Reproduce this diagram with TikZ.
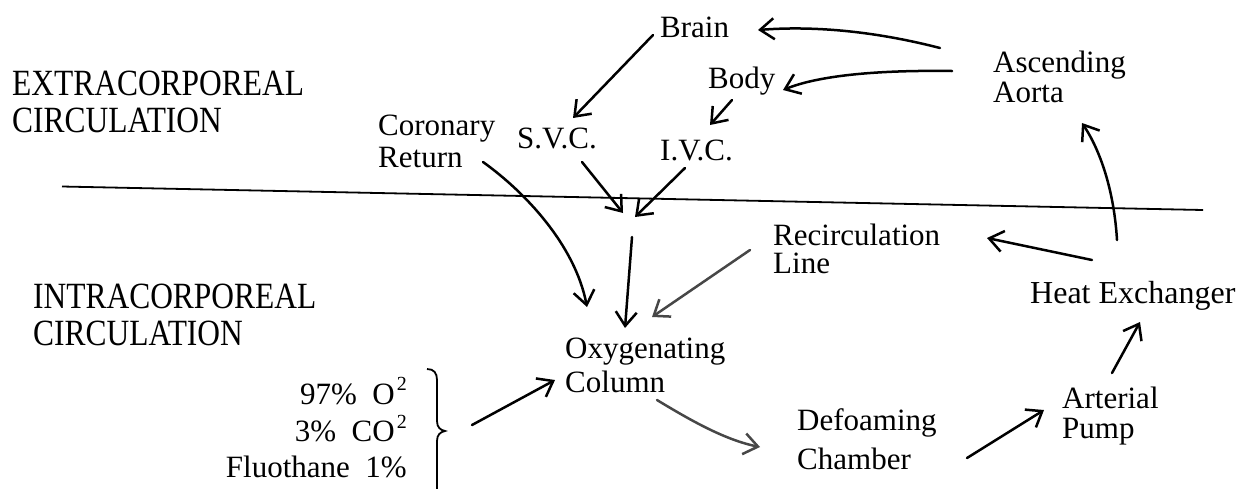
\documentclass[tikz,border=0pt]{standalone}
\usepackage{fontspec}
\setmainfont{Liberation Serif}
\newfontfamily\headfont[FakeStretch=0.85]{Liberation Serif}
\usetikzlibrary{arrows.meta,calc}
\newcommand\twolines[3][0pt]{\begin{tabular}[t]{@{}l@{}}#2\\[#1]#3\end{tabular}}
\newcommand\mysup[1]{\hspace{2pt}\raisebox{0.42em}{\fontsize{20}{20}\selectfont #1}}
\begin{document}
\begin{tikzpicture}[x=1pt,y=-1pt,
  lbl/.style={inner sep=0pt, anchor=base west, font=\fontsize{31}{32}\selectfont},
  head/.style={inner sep=0pt, anchor=base west, font=\headfont\fontsize{37}{32}\selectfont},
  flow/.style={line width=2.5pt, line cap=round, line join=round,
    -{Straight Barb[length=14pt,width=21pt]}},
  soft/.style={flow, draw=black!72},
  rule/.style={line width=1.8pt}]
\useasboundingbox (0,0) rectangle (1238,488);

% headings
\node[head] (ext) at (12,95) {\twolines[3pt]{EXTRACORPOREAL}{CIRCULATION}};
\node[head] (intra) at (33,308) {\twolines[3pt]{INTRACORPOREAL}{CIRCULATION}};

% labels
\node[lbl] (brain) at (660,37) {Brain};
\node[lbl] (body) at (708,88) {Body};
\node[lbl, font=\fontsize{31}{30}\selectfont] (asc) at (993,72) {\twolines{Ascending}{Aorta}};
\node[lbl] (cor) at (378,135) {\twolines{Coronary}{Return}};
\node[lbl] (svc) at (517,148) {S.V.C.};
\node[lbl] (ivc) at (660,160) {I.V.C.};
\node[lbl, font=\fontsize{31}{30}\selectfont] (rec) at (773,245) {\twolines[-2pt]{Recirculation}{Line}};
\node[lbl, font=\fontsize{32}{32}\selectfont] (heat) at (1030,303) {Heat Exchanger};
\node[lbl, font=\fontsize{31}{34}\selectfont] (oxy) at (565,358) {\twolines{Oxygenating}{Column}};
\node[lbl, font=\fontsize{31}{39}\selectfont] (def) at (797,430) {\twolines{Defoaming}{Chamber}};
\node[lbl, font=\fontsize{31}{30}\selectfont] (art) at (1062,408) {\twolines{Arterial}{Pump}};
\node[lbl, anchor=base east, font=\fontsize{31}{36}\selectfont] (gas) at (407,404)
  {\begin{tabular}[t]{@{}r@{}}97\%\ \ O\mysup{2}\hspace{9pt}\\3\%\ \ CO\mysup{2}\\Fluothane\ \ 1\%\end{tabular}};

% divider and brace
\draw[rule] (62,186.5) -- (1203,210);
\draw[line width=1.8pt] (427,369) .. controls (434,369) and (437,373) .. (437,380) -- (437,421)
  .. controls (437,427) and (440,430) .. (445,431)
  .. controls (440,432) and (437,435) .. (437,441) -- (437,490);

% connectors
\draw[flow] ($(asc.base west)+(-53,-24)$) .. controls +(-70,-18) and +(52,-4) .. ($(brain.base west)+(98,-7)$);
\draw[flow] ($(asc.base west)+(-41,-1)$) .. controls +(-72,-1) and +(37,-15) .. ($(body.base west)+(75,2)$);
\draw[flow] ($(brain.base west)+(-7,-2)$) -- ($(svc.base west)+(56,-30)$);
\draw[flow] ($(body.base west)+(24,12)$) -- ($(ivc.base west)+(50,-35)$);
\draw[flow] ($(svc.base west)+(65,14)$) -- ($(oxy.base west)+(58,-145)$);
\draw[flow] ($(ivc.base west)+(25,8)$) -- ($(oxy.base west)+(70,-141)$);
\draw[flow] ($(oxy.base west)+(67,-121)$) -- ($(oxy.base west)+(60,-30)$);
\draw[flow] ($(cor.base west)+(105,27)$) .. controls +(42,30) and +(-12,-62) .. ($(oxy.base west)+(22,-51)$);
\draw[soft] ($(rec.base west)+(-23,5)$) -- ($(oxy.base west)+(87,-41)$);
\draw[soft] ($(oxy.base west)+(92,42)$) .. controls +(33,20) and +(-35,-7) .. ($(def.base west)+(-37,17)$);
\draw[flow] ($(gas.base east)+(65,21)$) -- ($(oxy.base west)+(-10,22)$);
\draw[flow] ($(def.base west)+(170,28)$) -- ($(art.base west)+(-18,2)$);
\draw[flow] ($(art.base west)+(50,-35)$) -- ($(heat.base west)+(110,19)$);
\draw[flow] ($(heat.base west)+(87,-63)$) .. controls +(-3,-50) and +(18,27) .. ($(asc.base west)+(89,51)$);
\draw[flow] ($(heat.base west)+(62,-43)$) -- ($(rec.base west)+(214,-7)$);
\end{tikzpicture}
\end{document}
